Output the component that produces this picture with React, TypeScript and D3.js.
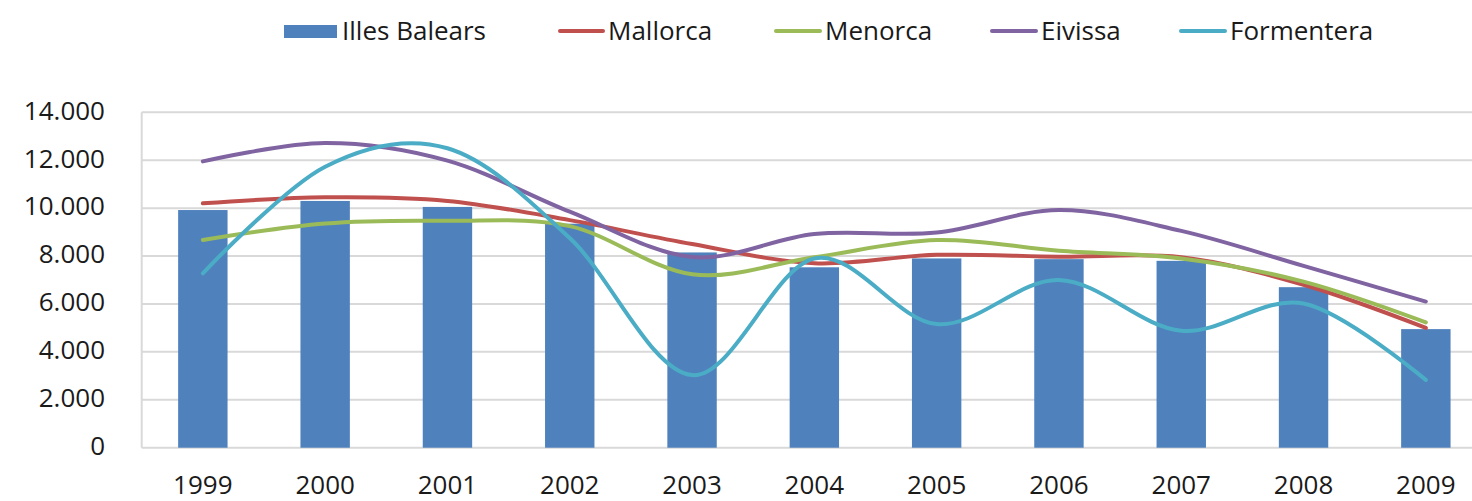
import React from "react";
import * as d3 from "d3";

const years = ["1999","2000","2001","2002","2003","2004","2005","2006","2007","2008","2009"];
const illesBalears = [9920, 10300, 10050, 9350, 8150, 7530, 7900, 7870, 7800, 6700, 4950];
const mallorca = [10200, 10450, 10300, 9500, 8500, 7700, 8050, 7970, 7950, 6800, 5000];
const menorca = [8670, 9360, 9470, 9250, 7240, 7950, 8670, 8220, 7900, 6930, 5230];
const eivissa = [11950, 12720, 11980, 9850, 7960, 8920, 8980, 9920, 9050, 7590, 6100];
const formentera = [7280, 11730, 12500, 8750, 3030, 7900, 5160, 7000, 4880, 6020, 2830];
const yTicks = [0, 2000, 4000, 6000, 8000, 10000, 12000, 14000];

const W = 1472, H = 501;
const left = 141.7, right = 1487, top = 112.3, bottom = 447.7;
const FONT = "'Open Sans', sans-serif";

const lineSeries = [
  { name: "Mallorca", values: mallorca, color: "#C0504D" },
  { name: "Menorca", values: menorca, color: "#9BBB59" },
  { name: "Eivissa", values: eivissa, color: "#8064A2" },
  { name: "Formentera", values: formentera, color: "#4BACC6" },
];

export default function App() {
  const x = d3.scaleBand<string>().domain(years).range([left, right]).paddingInner(0.596).paddingOuter(0.298);
  const y = d3.scaleLinear().domain([0, 14000]).range([bottom, top]);
  const cx = (yr: string) => (x(yr) as number) + x.bandwidth() / 2;
  const line = d3.line<number>()
    .x((_, i) => cx(years[i]))
    .y((v) => y(v))
    .curve(d3.curveCatmullRom.alpha(0));
  const fmt = (v: number) => d3.format(",")(v).replace(/,/g, ".");

  const legend = [
    { name: "Illes Balears", type: "bar", color: "#4F81BD", x0: 284, x1: 337, tx: 342 },
    { name: "Mallorca", type: "line", color: "#C0504D", x0: 560, x1: 603, tx: 608 },
    { name: "Menorca", type: "line", color: "#9BBB59", x0: 776, x1: 820, tx: 825 },
    { name: "Eivissa", type: "line", color: "#8064A2", x0: 992, x1: 1036, tx: 1041 },
    { name: "Formentera", type: "line", color: "#4BACC6", x0: 1181, x1: 1225, tx: 1230 },
  ];

  return (
    <div style={{ position: "absolute", left: 0, top: 0, width: W, height: H, overflow: "hidden", background: "#fff" }}>
      <svg width={W} height={H} style={{ display: "block" }}>
        {yTicks.map((t) => (
          <line key={t} x1={left} x2={right} y1={y(t)} y2={y(t)} stroke="#D9D9D9" strokeWidth={2} />
        ))}
        <line x1={left} x2={left} y1={top} y2={bottom} stroke="#D9D9D9" strokeWidth={2} />
        {yTicks.map((t) => (
          <text key={"l" + t} x={105} y={y(t) - 2} dy="0.36em" textAnchor="end" fontFamily={FONT} fontSize={26} fill="#1a1a1a">
            {fmt(t)}
          </text>
        ))}
        {years.map((yr) => (
          <text key={"x" + yr} x={cx(yr)} y={494} textAnchor="middle" fontFamily={FONT} fontSize={26} fill="#1a1a1a">
            {yr}
          </text>
        ))}
        {years.map((yr, i) => (
          <rect key={"b" + yr} x={x(yr)} y={y(illesBalears[i])} width={x.bandwidth()} height={bottom - y(illesBalears[i])} fill="#4F81BD" />
        ))}
        {lineSeries.map((s) => (
          <path key={s.name} d={line(s.values) || ""} fill="none" stroke={s.color} strokeWidth={4} strokeLinecap="round" strokeLinejoin="round" />
        ))}
        {legend.map((l) => (
          <g key={l.name}>
            {l.type === "bar" ? (
              <rect x={l.x0} y={25} width={l.x1 - l.x0} height={13} fill={l.color} />
            ) : (
              <line x1={l.x0} x2={l.x1} y1={31} y2={31} stroke={l.color} strokeWidth={4} strokeLinecap="round" />
            )}
            <text x={l.tx} y={31} dy="0.36em" fontFamily={FONT} fontSize={26} fill="#1a1a1a">{l.name}</text>
          </g>
        ))}
      </svg>
    </div>
  );
}
